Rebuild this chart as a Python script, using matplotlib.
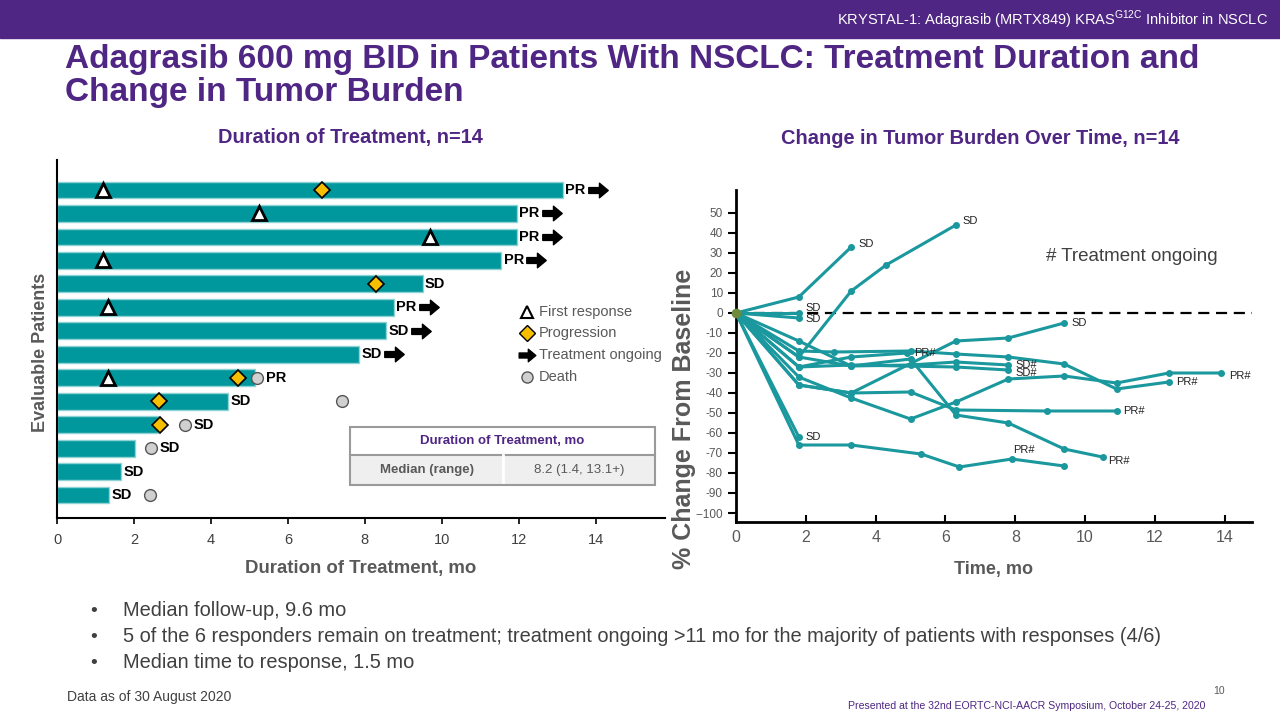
import matplotlib.pyplot as plt
from matplotlib.patches import Rectangle
from matplotlib.path import Path

plt.rcParams['font.family'] = ['Liberation Sans', 'DejaVu Sans']

PURPLE = '#4F2683'
TEAL = '#00979D'
LINE_TEAL = '#1A989D'
GRAY = '#595959'
DARK = '#404040'

# ---- swimmer plot data (top row first) ----
duration = [13.15, 11.95, 11.95, 11.55, 9.5, 8.75, 8.55, 7.85, 5.15, 4.45, 2.62, 2.02, 1.67, 1.35]
best_response = ['PR', 'PR', 'PR', 'PR', 'SD', 'PR', 'SD', 'SD', 'PR', 'SD', 'SD', 'SD', 'SD', 'SD']
first_response = [1.2, 5.25, 9.7, 1.2, None, 1.32, None, None, 1.32, None, None, None, None, None]
progression = [6.88, None, None, None, 8.28, None, None, None, 4.7, 2.65, 2.68, None, None, None]
death = [None, None, None, None, None, None, None, None, 5.2, 7.4, 3.32, 2.45, None, 2.42]
ongoing = [True, True, True, True, False, True, True, True, False, False, False, False, False, False]

# ---- spider plot data ----
spider_time = [
    [0, 1.8, 3.3],
    [0, 1.8, 3.3, 4.3, 6.3],
    [0, 1.8],
    [0, 1.8],
    [0, 1.8],
    [0, 1.8, 3.3, 5.3, 6.4, 7.9, 9.4],
    [0, 1.8, 3.3, 5.0, 6.3, 7.8, 9.4, 10.5],
    [0, 1.8, 3.3, 6.3, 7.8, 9.4],
    [0, 1.8, 3.3, 4.9],
    [0, 1.8, 3.3, 5.0, 6.3, 7.8],
    [0, 1.8, 3.3, 6.3, 7.8],
    [0, 1.8, 3.3, 5.0, 6.3, 7.8, 9.4, 10.9, 12.4, 13.9],
    [0, 1.8, 2.8, 5.0, 6.3, 7.8, 9.4, 10.9, 12.4],
    [0, 1.8, 3.3, 5.0, 6.3, 8.9, 10.9],
]
spider_pct = [
    [0, 8, 33],
    [0, -22, 11, 24, 44],
    [0, 0],
    [0, -2.5],
    [0, -62],
    [0, -66, -66, -70.5, -77, -73, -76.5],
    [0, -14, -26.5, -23, -51, -55, -68, -72],
    [0, -36, -40, -14, -12.5, -5],
    [0, -27, -22, -20],
    [0, -22, -26.5, -26, -24.5, -26],
    [0, -27, -26, -27, -28.5],
    [0, -32, -42.5, -53, -44.5, -33, -31.5, -35, -30, -30],
    [0, -19, -19.5, -19, -20.5, -22, -25.5, -38, -34.5],
    [0, -36, -40, -39.5, -48.5, -49, -49],
]
spider_label = ['SD', 'SD', 'SD', 'SD', 'SD', 'PR#', 'PR#', 'SD', 'PR#', 'SD#', 'SD#', 'PR#', 'PR#', 'PR#']
# label offsets in pixels (dx, dy) from last point
label_offset = {0: (7, 3), 1: (7, 4), 2: (7, 5), 3: (7, -1), 5: (-51, 16), 6: (6, -4),
                10: (7, -3), 11: (8, -3)}

fig = plt.figure(figsize=(12.8, 7.2), dpi=100)
W, H = 1280, 720

# header band
fig.patches.append(Rectangle((0, 1 - 38 / H), 1, 38 / H, transform=fig.transFigure,
                             color=PURPLE, zorder=0))
fig.text(1268 / W, 1 - 20 / H,
         r'KRYSTAL-1: Adagrasib (MRTX849) KRAS$^{\mathregular{G12C}}$ Inhibitor in NSCLC',
         color='white', ha='right', va='center', fontsize=10.5)

fig.text(65 / W, 1 - 44 / H,
         'Adagrasib 600 mg BID in Patients With NSCLC: Treatment Duration and\nChange in Tumor Burden',
         color=PURPLE, fontsize=24, fontweight='bold', ha='left', va='top', linespacing=1.1)

fig.text(350 / W, 1 - 138 / H, 'Duration of Treatment, n=14', color=PURPLE,
         fontsize=14.4, fontweight='bold', ha='center', va='center')
fig.text(980 / W, 1 - 138 / H, 'Change in Tumor Burden Over Time, n=14', color=PURPLE,
         fontsize=14.4, fontweight='bold', ha='center', va='center')

# ---- left: swimmer plot ----
ax = fig.add_axes([57 / W, 1 - 518 / H, 608 / W, 358 / H])
n = len(duration)
ys = [n - 1 - i for i in range(n)]
ax.barh(ys, duration, height=0.72, color=TEAL, edgecolor='#8FD3D5', linewidth=1, zorder=2)

arrow_path = Path([(-1, -0.3), (0.1, -0.3), (0.1, -0.75), (1, 0), (0.1, 0.75), (0.1, 0.3),
                   (-1, 0.3), (-1, -0.3)],
                  [Path.MOVETO] + [Path.LINETO] * 6 + [Path.CLOSEPOLY])

for i in range(n):
    y = ys[i]
    if first_response[i] is not None:
        ax.plot(first_response[i], y, marker='^', ms=10, mfc='white', mec='black', mew=2, zorder=4)
    if progression[i] is not None:
        ax.plot(progression[i], y, marker='D', ms=8.5, mfc='#F6BE00', mec='black', mew=1.2, zorder=4)
    if death[i] is not None:
        ax.plot(death[i], y, marker='o', ms=8.5, mfc='#D0D0D0', mec='#555555', mew=1, zorder=4)
    lx = duration[i] + 0.06
    if death[i] is not None and death[i] - duration[i] < 1.0:
        lx = death[i] + 0.22
    ax.text(lx, y, best_response[i], fontsize=10.5, fontweight='bold', ha='left',
            va='center', color='black', zorder=5)
    if ongoing[i]:
        ax.plot(lx + 0.85, y, marker=arrow_path, ms=14, color='black', zorder=5)

ax.set_xlim(0, 15.8)
ax.set_ylim(-0.98, 14.28)
ax.set_xticks(range(0, 15, 2))
ax.set_yticks([])
for s in ['top', 'right']:
    ax.spines[s].set_visible(False)
for s in ['left', 'bottom']:
    ax.spines[s].set_linewidth(1.5)
ax.tick_params(axis='x', labelsize=10.5, labelcolor=DARK, length=4, width=1.2, pad=7)
ax.set_xlabel('Duration of Treatment, mo', fontsize=13.4, fontweight='bold', color=GRAY)
ax.xaxis.set_label_coords(0.5, -0.118)
ax.set_ylabel('Evaluable Patients', fontsize=13, fontweight='bold', color=GRAY)
ax.yaxis.set_label_coords(-0.013, 0.464)

# legend
leg_y = [0.575, 0.516, 0.455, 0.394]
leg_txt = ['First response', 'Progression', 'Treatment ongoing', 'Death']
lx0 = 0.773
ax.plot(lx0, leg_y[0], marker='^', ms=9, mfc='white', mec='black', mew=1.5,
        transform=ax.transAxes, clip_on=False)
ax.plot(lx0, leg_y[1], marker='D', ms=8, mfc='#F6BE00', mec='black', mew=1,
        transform=ax.transAxes, clip_on=False)
ax.plot(lx0, leg_y[2], marker=arrow_path, ms=12, color='black',
        transform=ax.transAxes, clip_on=False)
ax.plot(lx0, leg_y[3], marker='o', ms=8, mfc='#D0D0D0', mec='#555555', mew=1,
        transform=ax.transAxes, clip_on=False)
for yy, t in zip(leg_y, leg_txt):
    ax.text(lx0 + 0.02, yy, t, transform=ax.transAxes, fontsize=10.5, color=GRAY, va='center')

# summary table
tx0, tx1, ty0, tmid, ty1, tsep = 350, 655, 427, 455, 485, 503
fig.patches.append(Rectangle((tx0 / W, 1 - ty1 / H), (tx1 - tx0) / W, (ty1 - tmid) / H,
                             transform=fig.transFigure, facecolor='#EFEFEF', edgecolor='none', zorder=3))
fig.patches.append(Rectangle((tx0 / W, 1 - ty1 / H), (tx1 - tx0) / W, (ty1 - ty0) / H,
                             transform=fig.transFigure, facecolor='none', edgecolor='#9A9A9A',
                             linewidth=1.5, zorder=4))
fig.add_artist(plt.Line2D([tx0 / W, tx1 / W], [1 - tmid / H, 1 - tmid / H], color='#9A9A9A',
                          lw=1.5, transform=fig.transFigure, zorder=4))
fig.add_artist(plt.Line2D([tsep / W, tsep / W], [1 - tmid / H, 1 - ty1 / H], color='white',
                          lw=2, transform=fig.transFigure, zorder=4))
fig.text((tx0 + tx1) / 2 / W, 1 - 441 / H, 'Duration of Treatment, mo', color=PURPLE,
         fontsize=9.5, fontweight='bold', ha='center', va='center', zorder=5)
fig.text((tx0 + tsep) / 2 / W, 1 - 470 / H, 'Median (range)', color=GRAY,
         fontsize=9.5, fontweight='bold', ha='center', va='center', zorder=5)
fig.text((tsep + tx1) / 2 / W, 1 - 470 / H, '8.2 (1.4, 13.1+)', color=GRAY,
         fontsize=9.5, ha='center', va='center', zorder=5)

# ---- right: spider plot ----
ax2 = fig.add_axes([736 / W, 1 - 522 / H, 516 / W, 332 / H])
ax2.axhline(0, color='black', ls=(0, (5, 3)), lw=1.6, zorder=1)
for k, (t, p) in enumerate(zip(spider_time, spider_pct)):
    ax2.plot(t, p, color=LINE_TEAL, lw=2.2, marker='o', ms=4, zorder=3, clip_on=False)
    dx, dy = label_offset.get(k, (7, 0))
    ax2.annotate(spider_label[k], (t[-1], p[-1]), xytext=(dx, dy), textcoords='offset pixels',
                 fontsize=8, color='#222222', ha='left', va='center', zorder=4)
ax2.plot(0, 0, 'o', color='#6E8B3D', ms=6, zorder=5, clip_on=False)
ax2.text(13.8, 28, '# Treatment ongoing', fontsize=13.5, color=DARK, ha='right', va='center')

ax2.set_xlim(0, 14.78)
ax2.set_ylim(-104.5, 61.5)
ax2.set_xticks(range(0, 15, 2))
yt = list(range(50, -101, -10))
ax2.set_yticks(yt)
ax2.set_yticklabels([('--100' if v == -100 else str(v)) for v in yt])
for s in ['top', 'right']:
    ax2.spines[s].set_visible(False)
for s in ['left', 'bottom']:
    ax2.spines[s].set_linewidth(2)
ax2.tick_params(axis='y', labelsize=8.5, labelcolor=GRAY, direction='out', length=6, width=1.5)
ax2.tick_params(axis='x', labelsize=11.5, labelcolor=GRAY, direction='in', length=5, width=1.5, pad=6)
ax2.set_xlabel('Time, mo', fontsize=13, fontweight='bold', color=GRAY)
ax2.xaxis.set_label_coords(0.5, -0.118)
ax2.set_ylabel('% Change From Baseline', fontsize=18, fontweight='bold', color=GRAY)
ax2.yaxis.set_label_coords(-0.077, 0.31)

# ---- bullets and footer ----
bullets = ['Median follow-up, 9.6 mo',
           '5 of the 6 responders remain on treatment; treatment ongoing >11 mo for the majority of patients with responses (4/6)',
           'Median time to response, 1.5 mo']
for j, b in enumerate(bullets):
    yb = 1 - (611 + 26 * j) / H
    fig.text(90 / W, yb, '\u2022', fontsize=14, color=DARK, va='center')
    fig.text(123 / W, yb, b, fontsize=14.4, color=DARK, va='center')

fig.text(67 / W, 1 - 697 / H, 'Data as of 30 August 2020', fontsize=10, color=DARK, va='center')
fig.text(1205 / W, 1 - 706 / H, 'Presented at the 32nd EORTC-NCI-AACR Symposium, October 24-25, 2020',
         fontsize=7.6, color=PURPLE, ha='right', va='center')
fig.text(1225 / W, 1 - 691 / H, '10', fontsize=7.5, color=GRAY, ha='right', va='center')

plt.savefig('out.png', dpi=100)
plt.close('all')
